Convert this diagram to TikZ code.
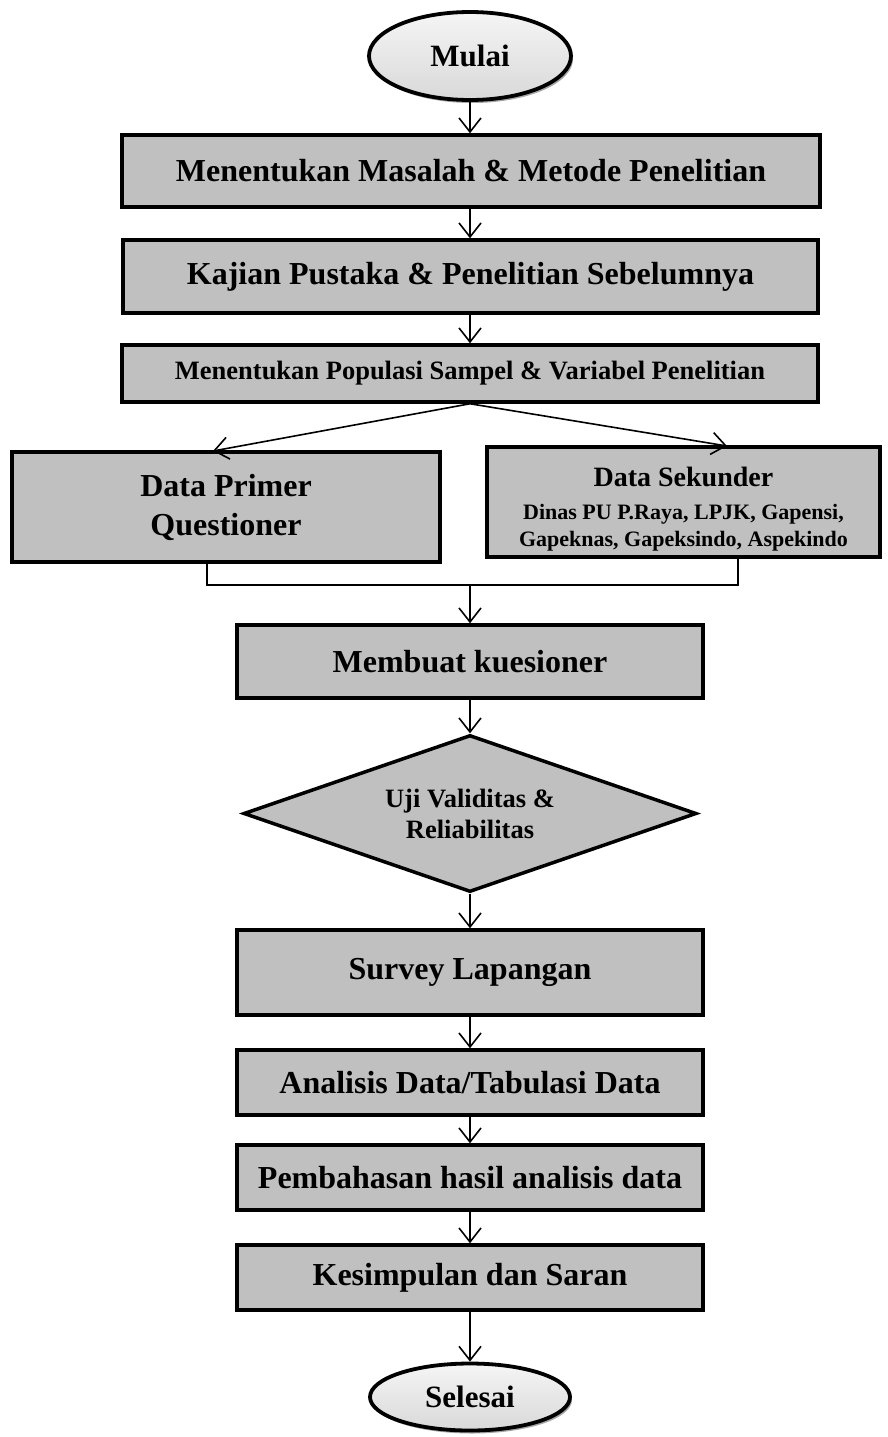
\documentclass[tikz,border=0pt]{standalone}
\usepackage{fontspec}
\setmainfont{Liberation Serif}
\usetikzlibrary{arrows.meta,shapes.geometric,shadows}
\begin{document}
\begin{tikzpicture}[x=1pt,y=1pt,
  procbox/.style={draw, line width=3.5pt, fill=boxgray, inner sep=0pt, align=center, font=\bfseries},
  term/.style={ellipse, draw, line width=3.8pt, top color=gray!8, bottom color=gray!30, inner sep=0pt,
     general shadow={shadow xshift=2pt, shadow yshift=-3pt, fill=gray!70}, font=\bfseries},
  decis/.style={diamond, aspect=2.885, draw, line width=3.5pt, fill=boxgray, inner sep=0pt, align=center, font=\bfseries},
  arr/.style={line width=1.6pt, -{Straight Barb[length=14pt,width=22pt,line width=1.6pt]}},
  ln/.style={line width=1.6pt}]
\definecolor{boxgray}{RGB}{192,192,192}
\useasboundingbox (0,0) rectangle (888,-1437);

\node[term, minimum width=202pt, minimum height=88pt, font=\bfseries\fontsize{31}{36}\selectfont] (mulai) at (470,-56) {Mulai};

\node[procbox, minimum width=698pt, minimum height=72pt, font=\bfseries\fontsize{32}{38}\selectfont] (b1) at (471,-171) {Menentukan Masalah \& Metode Penelitian};
\node[procbox, minimum width=695pt, minimum height=73pt, font=\bfseries\fontsize{32}{38}\selectfont] (b2) at (470.5,-276.5) {Kajian Pustaka \& Penelitian Sebelumnya};
\node[procbox, minimum width=696pt, minimum height=57pt, font=\bfseries\fontsize{26.5}{30}\selectfont] (b3) at (470,-373.5) {Menentukan Populasi Sampel \& Variabel Penelitian};

\node[procbox, minimum width=428pt, minimum height=110pt, font=\bfseries\fontsize{32}{39}\selectfont] (prim) at (226,-507) {Data Primer\\Questioner};
\node[procbox, minimum width=393pt, minimum height=110pt, font=\bfseries\fontsize{22}{27}\selectfont] (sek) at (683.5,-502) {\rule{0pt}{34pt}{\fontsize{28}{32}\selectfont Data Sekunder}\\[6pt]Dinas PU P.Raya, LPJK, Gapensi,\\Gapeknas, Gapeksindo, Aspekindo};

\node[procbox, minimum width=466pt, minimum height=73pt, font=\bfseries\fontsize{32}{38}\selectfont] (kues) at (470,-661.5) {Membuat kuesioner};
\node[decis, minimum width=453pt, minimum height=157pt, font=\bfseries\fontsize{26.5}{31}\selectfont] (uji) at (470,-813.5) {Uji Validitas \&\\Reliabilitas};
\node[procbox, minimum width=466pt, minimum height=85pt, font=\bfseries\fontsize{32}{38}\selectfont] (surv) at (470,-972.5) {Survey Lapangan};
\node[procbox, minimum width=466pt, minimum height=65pt, font=\bfseries\fontsize{32}{38}\selectfont] (anal) at (470,-1082.5) {Analisis Data/Tabulasi Data};
\node[procbox, minimum width=466pt, minimum height=65pt, font=\bfseries\fontsize{32}{38}\selectfont] (bahas) at (470,-1177.5) {Pembahasan hasil analisis data};
\node[procbox, minimum width=466pt, minimum height=65pt, font=\bfseries\fontsize{32}{38}\selectfont] (simp) at (470,-1277.5) {Kesimpulan dan Saran};
\node[term, minimum width=200pt, minimum height=67pt, font=\bfseries\fontsize{31}{36}\selectfont] (sel) at (470,-1397) {Selesai};

\coordinate (pl) at (213,-451);
\coordinate (pr) at (727,-446);
\coordinate (jl) at (207,-585);
\coordinate (jr) at (738,-585);
\coordinate (jm) at (470,-585);

\draw[arr] (mulai.south) -- (b1.north -| mulai.south);
\draw[arr] (b1.south -| mulai.south) -- (b2.north -| mulai.south);
\draw[arr] (b2.south -| mulai.south) -- (b3.north -| mulai.south);
\draw[arr] (b3.south) -- (pl);
\draw[arr] (b3.south) -- (pr);
\draw[ln] (prim.south -| jl) -- (jl) -- (jr) -- (sek.south -| jr);
\draw[arr] (jm) -- (kues.north);
\draw[arr] (kues.south) -- (uji.north);
\draw[arr] (uji.south) -- (surv.north);
\draw[arr] (surv.south) -- (anal.north);
\draw[arr] (anal.south) -- (bahas.north);
\draw[arr] (bahas.south) -- (simp.north);
\draw[arr] (simp.south) -- (sel.north);
\end{tikzpicture}
\end{document}
